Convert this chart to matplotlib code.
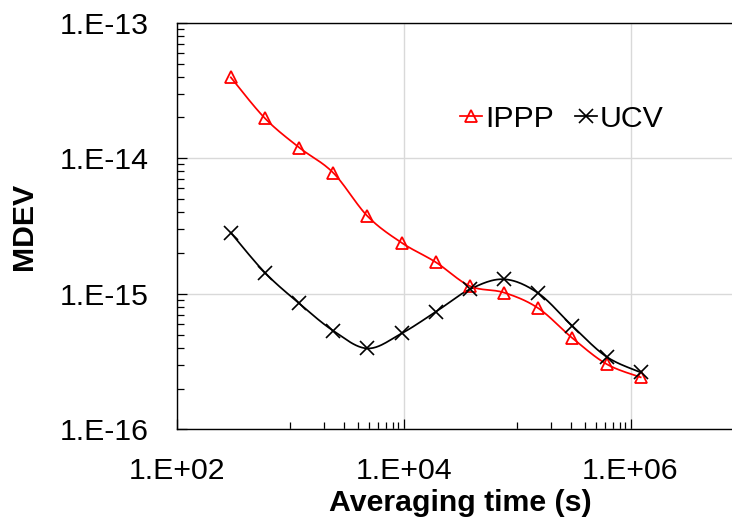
import numpy as np
import matplotlib
matplotlib.use('Agg')
import matplotlib.pyplot as plt

plt.rcParams['font.family'] = ['Liberation Sans', 'DejaVu Sans']

# datos
tau = [300, 600, 1200, 2400, 4800, 9600, 19200, 38400, 76800, 153600, 307200, 614400, 1228800]
mdev_ippp = [3.95e-14, 1.97e-14, 1.20e-14, 7.8e-15, 3.74e-15, 2.38e-15, 1.71e-15,
             1.14e-15, 1.02e-15, 7.83e-16, 4.71e-16, 3.03e-16, 2.42e-16]
mdev_ucv = [2.82e-15, 1.43e-15, 8.5e-16, 5.33e-16, 3.95e-16, 5.1e-16, 7.36e-16,
            1.08e-15, 1.28e-15, 1.01e-15, 5.78e-16, 3.43e-16, 2.63e-16]

xticks = [1e2, 1e4, 1e6]
xtick_labels = ['1.E+02', '1.E+04', '1.E+06']
yticks = [1e-16, 1e-15, 1e-14, 1e-13]
ytick_labels = ['1.E-16', '1.E-15', '1.E-14', '1.E-13']

# escala en pixeles por decada (para suavizar igual que excel)
PX_X = 113.5
PX_Y = 135.5
FS = 21.8


def suavizar(xs, ys, n=25):
    # curva tipo catmull-rom (bezier) en espacio log
    u = np.log10(xs) * PX_X
    v = np.log10(ys) * PX_Y
    p = np.column_stack([u, v])
    p = np.vstack([p[0], p, p[-1]])
    curva = []
    for i in range(1, len(p) - 2):
        p0, p1, p2, p3 = p[i - 1], p[i], p[i + 1], p[i + 2]
        c1 = p1 + (p2 - p0) / 6
        c2 = p2 - (p3 - p1) / 6
        t = np.linspace(0, 1, n)[:, None]
        b = (1 - t) ** 3 * p1 + 3 * (1 - t) ** 2 * t * c1 + 3 * (1 - t) * t ** 2 * c2 + t ** 3 * p2
        curva.append(b)
    curva = np.vstack(curva)
    return 10 ** (curva[:, 0] / PX_X), 10 ** (curva[:, 1] / PX_Y)


fig = plt.figure(figsize=(7.32, 5.21), dpi=100)
ax = fig.add_axes([0.2414, 0.176, 0.775, 0.7804])
ax.set_xscale('log')
ax.set_yscale('log')
ax.set_xlim(1e2, 1e7)
ax.set_ylim(1e-16, 1e-13)

# lineas suavizadas
sx, sy = suavizar(tau, mdev_ippp)
ax.plot(sx, sy, color='#ff0000', lw=1.25, zorder=3)
sx, sy = suavizar(tau, mdev_ucv)
ax.plot(sx, sy, color='black', lw=1.25, zorder=3)

# marcadores
ax.plot(tau, mdev_ippp, ls='none', marker='^', ms=8.5, mfc='none', mec='#ff0000', mew=1.3, zorder=4)
ax.plot(tau, mdev_ucv, ls='none', marker='x', ms=9.5, mec='black', mew=1.2, zorder=4)

# leyenda con handles propios
h1, = ax.plot([], [], color='#ff0000', lw=1.25, marker='^', ms=8.5, mfc='none', mec='#ff0000', mew=1.3)
h2, = ax.plot([], [], color='black', lw=1.25, marker='x', ms=9.5, mew=1.2)
ax.legend([h1, h2], ['IPPP', 'UCV'], ncol=2, frameon=False, fontsize=FS,
          handlelength=0.72, handletextpad=0.1, columnspacing=0.7, borderpad=0,
          borderaxespad=0, loc='center left', bbox_to_anchor=(460 / 732, 1 - 119 / 521),
          bbox_transform=fig.transFigure)

# ticks
ax.set_xticks(xticks)
ax.set_xticklabels(xtick_labels)
ax.set_yticks(yticks)
ax.set_yticklabels(ytick_labels)
x_minor = [k * 10 ** e for e in (3, 5) for k in range(1, 10)]
y_minor = [k * 10.0 ** e for e in (-16, -15, -14) for k in range(2, 10)]
ax.set_xticks(x_minor, minor=True)
ax.set_yticks(y_minor, minor=True)
ax.xaxis.set_minor_formatter(matplotlib.ticker.NullFormatter())
ax.yaxis.set_minor_formatter(matplotlib.ticker.NullFormatter())
ax.tick_params(which='major', direction='in', length=7.5, width=0.9, labelsize=FS, pad=20)
ax.tick_params(which='minor', direction='in', length=5.3, width=0.9)

# grilla
ax.grid(True, which='major', color='#d9d9d9', lw=1.0)
ax.set_axisbelow(True)

for s in ['left', 'bottom', 'top']:
    ax.spines[s].set_linewidth(1.0)
ax.spines['right'].set_visible(False)

ax.set_xlabel('Averaging time (s)', fontsize=FS, fontweight='bold', labelpad=3)
ax.set_ylabel('MDEV', fontsize=FS, fontweight='bold', labelpad=16)

fig.savefig('out.png', dpi=100)
